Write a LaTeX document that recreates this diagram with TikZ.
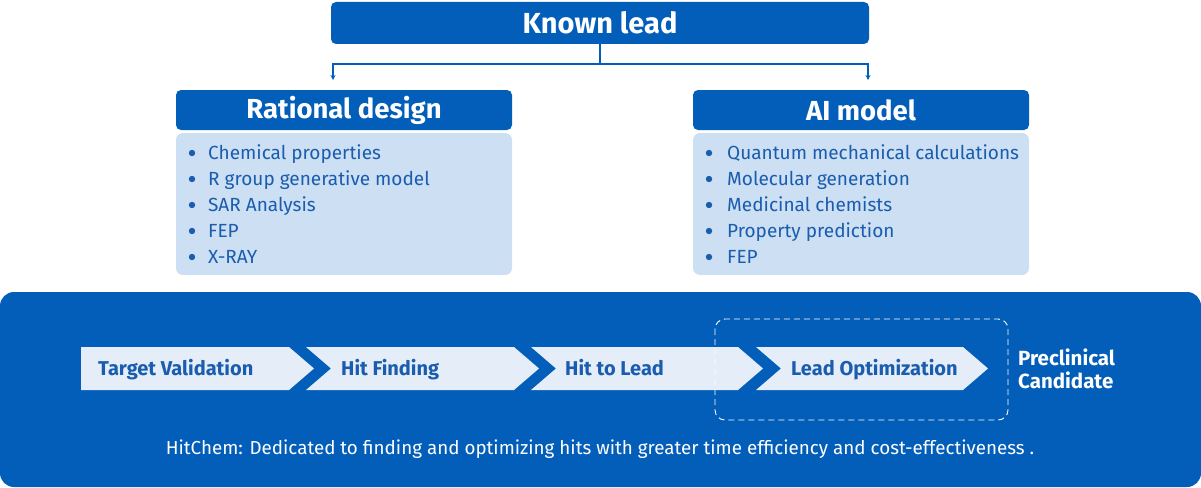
\documentclass[tikz,border=0pt]{standalone}
\usepackage{fontspec}
\setmainfont{Fira Sans}
\usetikzlibrary{arrows.meta}
\definecolor{dblue}{HTML}{025EB8}
\definecolor{lbluebox}{HTML}{CCDFF3}
\definecolor{chev}{HTML}{E4EDF8}
\definecolor{tblue}{HTML}{1A5CAE}
\tikzset{
  x=1pt,y=-1pt,
  hdr/.style={fill=dblue,rounded corners=5pt,text=white,font=\fontsize{27.5}{32}\selectfont\bfseries,minimum width=336pt,minimum height=40pt,inner sep=0pt},
  lbox/.style={fill=lbluebox,rounded corners=7pt,minimum width=336pt,minimum height=142pt,inner sep=0pt},
  item/.style={anchor=west,text=tblue,font=\fontsize{19}{22}\selectfont,inner sep=0pt,text height=13pt,text depth=0pt},
  chevtxt/.style={anchor=west,text=tblue,font=\fontsize{20}{24}\selectfont\bfseries,inner sep=0pt,text height=14pt,text depth=0pt},
  conn/.style={draw=dblue,line width=1.2pt},
  tip/.style={-{Stealth[length=5pt,width=5pt]}}
}
\begin{document}
\begin{tikzpicture}
\useasboundingbox (0,0) rectangle (1201,487);
% top box
\node[fill=dblue,rounded corners=5pt,minimum width=538pt,minimum height=42pt,inner sep=0pt,text=white,font=\fontsize{29}{34}\selectfont\bfseries] (kl) at (600,23) {Known lead};
\coordinate (j) at (600,64);
\coordinate (la) at (333,80);
\coordinate (ra) at (868,80);
\draw[conn] (kl.south) -- (j);
\draw[conn,tip] (j) -| (la);
\draw[conn,tip] (j) -| (ra);
% columns
\node[hdr] (rd) at (344,110) {Rational design};
\node[lbox] (rdb) at (344,204) {};
\node[hdr] (ai) at (861,110) {AI model};
\node[lbox] (aib) at (861,204) {};
\foreach \t [count=\i from 0] in {Chemical properties,R group generative model,SAR Analysis,FEP,X-RAY}{
  \fill[tblue] (192,153+26*\i) circle (3.2pt);
  \node[item] (l\i) at (208,153+26*\i) {\t};
}
\foreach \t [count=\i from 0] in {Quantum mechanical calculations,Molecular generation,Medicinal chemists,Property prediction,FEP}{
  \fill[tblue] (709,153+26*\i) circle (3.2pt);
  \node[item] (r\i) at (727,153+26*\i) {\t};
}
% bottom panel
\fill[dblue,rounded corners=14pt] (0,292) rectangle (1201,487);
% chevrons
\fill[chev] (81,347) -- (289,347) -- (314,368.5) -- (289,390) -- (81,390) -- cycle;
\fill[chev] (306,347) -- (514,347) -- (539,368.5) -- (514,390) -- (306,390) -- (331,368.5) -- cycle;
\fill[chev] (531,347) -- (738,347) -- (763,368.5) -- (738,390) -- (531,390) -- (556,368.5) -- cycle;
\fill[chev] (756,347) -- (963,347) -- (988,368.5) -- (963,390) -- (756,390) -- (781,368.5) -- cycle;
\node[chevtxt] (c1) at (98,368.5) {Target Validation};
\node[chevtxt] (c2) at (341,368.5) {Hit Finding};
\node[chevtxt] (c3) at (565,368.5) {Hit to Lead};
\node[chevtxt] (c4) at (791,368.5) {Lead Optimization};
\draw[white,line width=0.9pt,dash pattern=on 6pt off 4pt,rounded corners=10pt] (715,319) rectangle (1008,420);
\node[anchor=west,text=white,font=\fontsize{20.5}{23}\selectfont\bfseries,align=left,inner sep=0pt] (pc) at (1018,369) {Preclinical\\Candidate};
\node[text=white,font=\fontsize{18.8}{22}\selectfont,inner sep=0pt] (tag) at (600,449) {HitChem: Dedicated to finding and optimizing hits with greater time efficiency and cost-effectiveness .};
\end{tikzpicture}
\end{document}
